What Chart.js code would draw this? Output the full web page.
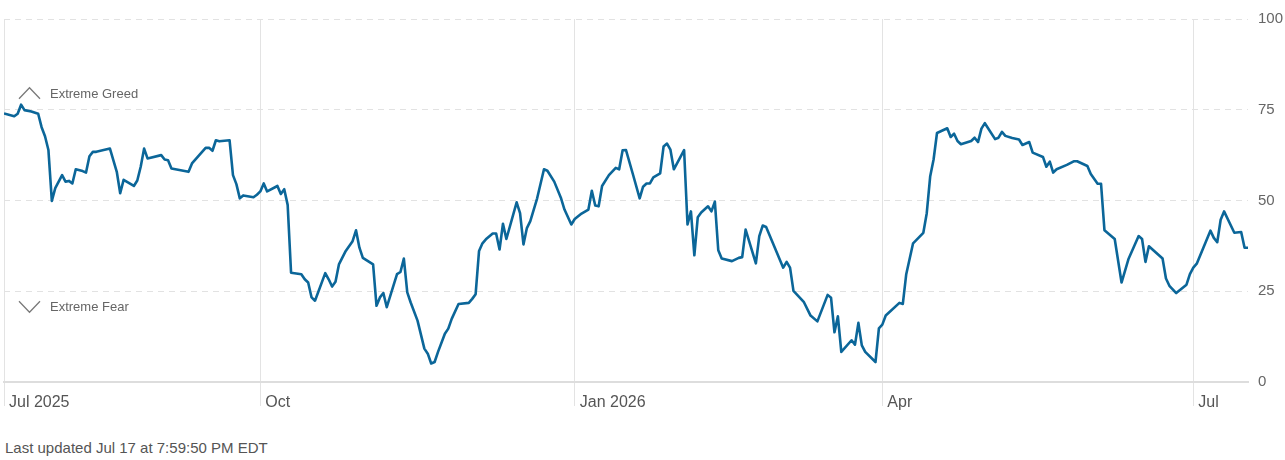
<!DOCTYPE html>
<html>
<head>
<meta charset="utf-8">
<title>Fear &amp; Greed Index</title>
<script src="https://cdn.jsdelivr.net/npm/chart.js@4.4.1/dist/chart.umd.min.js"></script>
<style>
  body { margin: 0; background: #fff; font-family: "Liberation Sans", Arial, sans-serif; overflow: hidden; }
  .wrap { position: relative; width: 1285px; height: 420px; }
  .updated { position: absolute; left: 5px; top: 439px; font-size: 15px; color: #555; }
</style>
</head>
<body>
<div class="wrap"><canvas id="fgChart" width="1285" height="420"></canvas></div>
<div class="updated">Last updated Jul 17 at 7:59:50 PM EDT</div>
<script>
// series starts Jul 18 2025, x values are days since then
const startDate = '2025-07-18'

const tickDates = ['2025-07-18', '2025-10-01', '2026-01-01', '2026-04-01', '2026-07-01']
const tickLabels = ['Jul 2025', 'Oct', 'Jan 2026', 'Apr', 'Jul']
const yTicks = [0, 25, 50, 75, 100]

const dayOffsets = [
  0, 3, 4, 5, 6, 8, 10, 11, 12, 13,
  14, 15, 17, 18, 19, 20, 21, 23, 24, 25,
  26, 27, 31, 33, 34, 35, 38, 39, 40, 41,
  42, 46, 47, 48, 49, 54, 55, 59, 60, 61,
  62, 63, 66, 67, 68, 69, 70, 73, 74, 75,
  76, 77, 80, 81, 82, 83, 84, 87, 88, 89,
  90, 91, 94, 95, 96, 97, 98, 100, 102, 103,
  104, 105, 108, 109, 110, 111, 112, 115, 116, 117,
  118, 119, 121, 123, 124, 125, 126, 127, 129, 130,
  131, 133, 136, 137, 138, 139, 140, 141, 143, 144,
  145, 146, 147, 150, 151, 152, 153, 154, 156, 158,
  159, 161, 163, 164, 166, 167, 169, 171, 172, 173,
  174, 175, 177, 179, 180, 181, 182, 184, 186, 187,
  188, 189, 190, 192, 193, 194, 195, 196, 199, 200,
  201, 202, 203, 204, 206, 207, 208, 209, 210, 213,
  215, 216, 217, 220, 221, 222, 223, 228, 229, 230,
  231, 234, 236, 238, 241, 242, 243, 244, 245, 248,
  249, 250, 251, 252, 255, 256, 257, 258, 262, 263,
  264, 266, 269, 270, 271, 272, 273, 276, 277, 278,
  279, 280, 283, 284, 285, 286, 287, 290, 291, 292,
  293, 295, 297, 298, 300, 301, 304, 305, 306, 307,
  308, 311, 313, 314, 317, 318, 320, 321, 322, 325,
  327, 329, 332, 333, 334, 335, 339, 340, 341, 343,
  346, 347, 348, 349, 353, 354, 355, 356, 357, 360,
  362, 363, 364
]

const fearGreed = [
  74.0, 73.2, 73.9, 76.4, 74.9, 74.5, 73.9, 70.2, 67.7, 63.9,
  49.9, 53.4, 57.0, 55.2, 55.4, 54.7, 58.6, 58.1, 57.7, 62.2,
  63.4, 63.4, 64.3, 57.9, 52.0, 55.7, 54.0, 55.5, 59.3, 64.3,
  61.6, 62.5, 61.3, 61.1, 58.8, 57.9, 60.2, 64.5, 64.5, 63.7,
  66.6, 66.3, 66.6, 57.0, 54.5, 50.6, 51.4, 50.9, 51.6, 52.5,
  54.7, 52.5, 54.0, 51.8, 53.1, 48.8, 30.1, 29.7, 28.3, 27.4,
  23.3, 22.4, 30.0, 28.3, 26.3, 27.6, 32.4, 36.1, 38.8, 41.8,
  37.0, 34.2, 32.4, 21.0, 23.3, 24.5, 20.6, 29.7, 30.3, 34.0,
  24.7, 21.9, 16.9, 9.2, 7.8, 5.1, 5.5, 8.3, 13.3, 14.7,
  17.4, 21.5, 21.8, 22.9, 24.2, 36.1, 38.2, 39.3, 40.9, 40.9,
  36.5, 43.6, 39.4, 49.5, 46.5, 37.9, 42.4, 44.3, 50.6, 58.6,
  58.2, 55.2, 50.6, 47.5, 43.4, 44.9, 46.4, 47.5, 52.7, 48.6,
  48.4, 54.0, 57.0, 59.0, 58.6, 63.8, 63.9, 57.3, 50.6, 53.8,
  54.7, 54.7, 56.4, 57.5, 64.9, 65.7, 64.0, 58.6, 63.9, 43.4,
  47.0, 34.9, 45.4, 46.7, 48.4, 47.0, 49.7, 36.3, 34.0, 33.3,
  34.2, 34.4, 42.0, 32.7, 40.2, 43.1, 42.7, 31.5, 33.1, 31.5,
  25.1, 22.1, 18.3, 16.7, 24.0, 23.2, 13.7, 18.1, 8.3, 11.5,
  10.3, 16.3, 10.1, 8.3, 5.5, 14.8, 15.8, 18.3, 21.8, 21.5,
  29.7, 38.2, 41.1, 46.5, 56.6, 61.3, 68.6, 69.9, 67.5, 68.4,
  66.4, 65.5, 66.4, 67.3, 66.1, 69.8, 71.3, 66.9, 67.3, 68.9,
  67.8, 67.2, 66.8, 65.3, 66.1, 63.2, 62.0, 59.3, 60.7, 57.7,
  58.6, 59.8, 60.8, 60.8, 59.5, 57.3, 54.6, 54.6, 41.8, 39.4,
  27.4, 33.8, 40.2, 39.4, 33.1, 37.4, 34.0, 28.5, 26.5, 24.5,
  26.8, 29.7, 31.5, 32.6, 41.7, 39.7, 38.5, 44.7, 47.0, 41.1,
  41.3, 37.0, 37.0
]

const FONT = '"Liberation Sans", Arial, sans-serif'
const DAY = 86400000

const daysSinceStart = (d) => Math.round((Date.parse(d) - Date.parse(startDate)) / DAY)
const tickDays = tickDates.map(daysSinceStart)

// Extreme Greed / Extreme Fear markers near the 75 and 25 lines
const zoneLabels = {
  id: 'zoneLabels',
  beforeDatasetsDraw(chart) {
    const { ctx, scales: { y } } = chart
    const y75 = y.getPixelForValue(75)
    const y25 = y.getPixelForValue(25)
    ctx.save()
    ctx.strokeStyle = '#7a7a7a'
    ctx.lineWidth = 1.3
    ctx.beginPath()
    ctx.moveTo(19, y75 - 11)
    ctx.lineTo(29.5, y75 - 22)
    ctx.lineTo(40, y75 - 11)
    ctx.stroke()
    ctx.beginPath()
    ctx.moveTo(19, y25 + 10)
    ctx.lineTo(29.5, y25 + 21)
    ctx.lineTo(40, y25 + 10)
    ctx.stroke()
    ctx.fillStyle = '#666'
    ctx.font = '13px ' + FONT
    ctx.textBaseline = 'middle'
    ctx.fillText('Extreme Greed', 50, y75 - 15)
    ctx.fillText('Extreme Fear', 50, y25 + 16.5)
    ctx.restore()
  }
}

const chart = new Chart(document.getElementById('fgChart'), {
  type: 'line',
  data: {
    datasets: [{
      label: 'Fear & Greed Index',
      data: dayOffsets.map((d, i) => ({ x: d, y: fearGreed[i] })),
      borderColor: '#0b6699',
      borderWidth: 2.6,
      pointRadius: 0,
      tension: 0,
      borderJoinStyle: 'round',
      fill: false
    }]
  },
  options: {
    responsive: false,
    animation: false,
    layout: { padding: { left: 4, right: 2, top: 16, bottom: 8 } },
    plugins: {
      legend: { display: false },
      tooltip: { enabled: false }
    },
    scales: {
      x: {
        type: 'linear',
        min: 0,
        max: dayOffsets[dayOffsets.length - 1],
        afterBuildTicks: (scale) => {
          scale.ticks = tickDays.map(v => ({ value: v }))
        },
        afterFit: (scale) => {
          scale.height = 30
          scale.paddingRight = 0
        },
        grid: { color: '#e3e3e3', lineWidth: 1, drawTicks: true, tickLength: 24 },
        border: { display: true, color: '#dddddd', width: 2 },
        ticks: {
          autoSkip: false,
          maxRotation: 0,
          align: 'start',
          labelOffset: 5,
          padding: -13,
          color: '#555',
          font: { family: FONT, size: 16 },
          callback: (value, index) => tickLabels[index]
        }
      },
      y: {
        position: 'right',
        min: 0,
        max: 100,
        afterBuildTicks: (scale) => {
          scale.ticks = yTicks.map(v => ({ value: v }))
        },
        afterFit: (scale) => {
          scale.width = 35
        },
        grid: {
          color: (c) => c.tick && c.tick.value === 0 ? 'rgba(0,0,0,0)' : '#e2e2e2',
          lineWidth: 1,
          drawTicks: false
        },
        border: { display: false, dash: [6, 5] },
        ticks: {
          padding: 10,
          color: '#666',
          font: { family: FONT, size: 15 }
        }
      }
    }
  },
  plugins: [zoneLabels]
})
</script>
</body>
</html>
